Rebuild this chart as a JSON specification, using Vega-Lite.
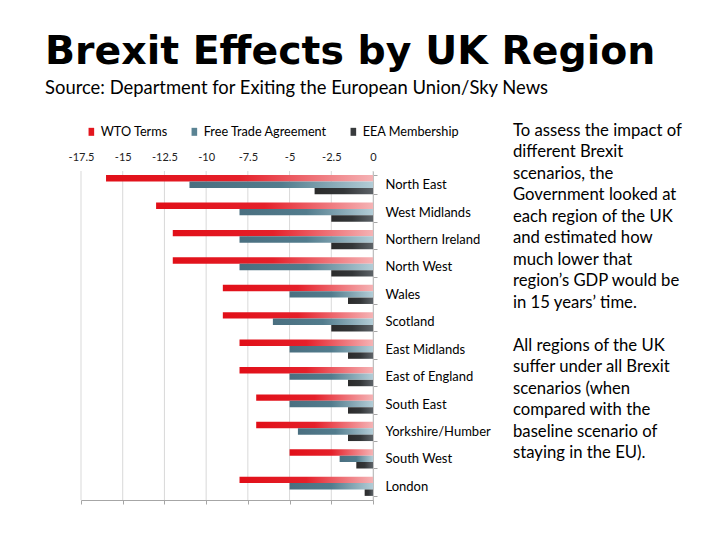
{
  "$schema": "https://vega.github.io/schema/vega-lite/v6.json",
  "background": "white",
  "padding": {"left": 45, "top": 32, "right": 5, "bottom": 5},
  "title": {
    "text": "Brexit Effects by UK Region",
    "subtitle": "Source: Department for Exiting the European Union/Sky News",
    "anchor": "start",
    "frame": "bounds",
    "dx": -23,
    "font": "DejaVu Sans",
    "fontWeight": "bold",
    "fontSize": 39.4,
    "color": "#000000",
    "subtitleFont": "Lato",
    "subtitleFontSize": 18.4,
    "subtitleColor": "#000000",
    "subtitlePadding": 6,
    "offset": 23
  },
  "config": {"view": {"stroke": null}, "font": "Lato"},
  "datasets": {
    "gdp": [
      {"region": "North East", "scenario": "WTO Terms", "value": -16},
      {"region": "North East", "scenario": "Free Trade Agreement", "value": -11},
      {"region": "North East", "scenario": "EEA Membership", "value": -3.5},
      {"region": "West Midlands", "scenario": "WTO Terms", "value": -13},
      {"region": "West Midlands", "scenario": "Free Trade Agreement", "value": -8},
      {"region": "West Midlands", "scenario": "EEA Membership", "value": -2.5},
      {"region": "Northern Ireland", "scenario": "WTO Terms", "value": -12},
      {"region": "Northern Ireland", "scenario": "Free Trade Agreement", "value": -8},
      {"region": "Northern Ireland", "scenario": "EEA Membership", "value": -2.5},
      {"region": "North West", "scenario": "WTO Terms", "value": -12},
      {"region": "North West", "scenario": "Free Trade Agreement", "value": -8},
      {"region": "North West", "scenario": "EEA Membership", "value": -2.5},
      {"region": "Wales", "scenario": "WTO Terms", "value": -9},
      {"region": "Wales", "scenario": "Free Trade Agreement", "value": -5},
      {"region": "Wales", "scenario": "EEA Membership", "value": -1.5},
      {"region": "Scotland", "scenario": "WTO Terms", "value": -9},
      {"region": "Scotland", "scenario": "Free Trade Agreement", "value": -6},
      {"region": "Scotland", "scenario": "EEA Membership", "value": -2.5},
      {"region": "East Midlands", "scenario": "WTO Terms", "value": -8},
      {"region": "East Midlands", "scenario": "Free Trade Agreement", "value": -5},
      {"region": "East Midlands", "scenario": "EEA Membership", "value": -1.5},
      {"region": "East of England", "scenario": "WTO Terms", "value": -8},
      {"region": "East of England", "scenario": "Free Trade Agreement", "value": -5},
      {"region": "East of England", "scenario": "EEA Membership", "value": -1.5},
      {"region": "South East", "scenario": "WTO Terms", "value": -7},
      {"region": "South East", "scenario": "Free Trade Agreement", "value": -5},
      {"region": "South East", "scenario": "EEA Membership", "value": -1.5},
      {"region": "Yorkshire/Humber", "scenario": "WTO Terms", "value": -7},
      {"region": "Yorkshire/Humber", "scenario": "Free Trade Agreement", "value": -4.5},
      {"region": "Yorkshire/Humber", "scenario": "EEA Membership", "value": -1.5},
      {"region": "South West", "scenario": "WTO Terms", "value": -5},
      {"region": "South West", "scenario": "Free Trade Agreement", "value": -2},
      {"region": "South West", "scenario": "EEA Membership", "value": -1},
      {"region": "London", "scenario": "WTO Terms", "value": -8},
      {"region": "London", "scenario": "Free Trade Agreement", "value": -5},
      {"region": "London", "scenario": "EEA Membership", "value": -0.5}
    ],
    "grid": [
      {"tick": -17.5}, {"tick": -15}, {"tick": -12.5}, {"tick": -10},
      {"tick": -7.5}, {"tick": -5}, {"tick": -2.5}, {"tick": 0}
    ],
    "notes": [
      {"line": 1, "text": "To assess the impact of"},
      {"line": 2, "text": "different Brexit"},
      {"line": 3, "text": "scenarios, the"},
      {"line": 4, "text": "Government looked at"},
      {"line": 5, "text": "each region of the UK"},
      {"line": 6, "text": "and estimated how"},
      {"line": 7, "text": "much lower that"},
      {"line": 8, "text": "region’s GDP would be"},
      {"line": 9, "text": "in 15 years’ time."},
      {"line": 10, "text": ""},
      {"line": 11, "text": "All regions of the UK"},
      {"line": 12, "text": "suffer under all Brexit"},
      {"line": 13, "text": "scenarios (when"},
      {"line": 14, "text": "compared with the"},
      {"line": 15, "text": "baseline scenario of"},
      {"line": 16, "text": "staying in the EU)."}
    ]
  },
  "spacing": 12,
  "resolve": {"legend": {"color": "independent"}},
  "hconcat": [
    {
      "width": 292,
      "height": 329,
      "layer": [
        {
          "data": {"name": "grid"},
          "mark": {"type": "rule", "color": "#d9d9d9", "strokeWidth": 1},
          "encoding": {
            "x": {
              "field": "tick",
              "type": "quantitative",
              "scale": {"domain": [-17.5, 0], "nice": false, "zero": false},
              "axis": {
                "orient": "bottom",
                "values": [-17.5, -15, -12.5, -10, -7.5, -5, -2.5, 0],
                "labels": false,
                "grid": false,
                "domain": true,
                "domainColor": "#a6a6a6",
                "ticks": true,
                "tickColor": "#a6a6a6",
                "tickSize": 4,
                "title": null
              }
            }
          }
        },
        {
          "data": {"name": "gdp"},
          "mark": {"type": "bar"},
          "encoding": {
            "y": {
              "field": "region",
              "type": "nominal",
              "sort": ["North East", "West Midlands", "Northern Ireland", "North West", "Wales", "Scotland", "East Midlands", "East of England", "South East", "Yorkshire/Humber", "South West", "London"],
              "scale": {"paddingInner": 0.3, "paddingOuter": 0.15},
              "axis": {
                "orient": "right",
                "title": null,
                "domain": true,
                "domainColor": "#a6a6a6",
                "ticks": true,
                "tickBand": "extent",
                "tickSize": 4,
                "tickColor": "#a6a6a6",
                "labelPadding": 8,
                "labelFont": "Lato",
                "labelFontSize": 13,
                "labelColor": "#000000"
              }
            },
            "yOffset": {
              "field": "scenario",
              "type": "nominal",
              "sort": ["WTO Terms", "Free Trade Agreement", "EEA Membership"],
              "scale": {"paddingInner": 0, "paddingOuter": 0}
            },
            "x": {
              "field": "value",
              "type": "quantitative",
              "axis": {
                "orient": "top",
                "values": [-17.5, -15, -12.5, -10, -7.5, -5, -2.5, 0],
                "labelExpr": "datum.value + ''",
                "labelFlush": false,
                "labelOverlap": false,
                "grid": false,
                "domain": false,
                "ticks": false,
                "labelPadding": 9,
                "labelFont": "Lato",
                "labelFontSize": 11,
                "labelColor": "#222222",
                "title": null
              }
            },
            "color": {
              "field": "scenario",
              "type": "nominal",
              "scale": {
                "domain": ["WTO Terms", "Free Trade Agreement", "EEA Membership"],
                "range": ["#e3161e", "#5a8393", "#383b3d"]
              },
              "condition": [
                {"test": "datum.scenario === 'WTO Terms'", "value": {"gradient": "linear", "x1": 0, "y1": 0, "x2": 1, "y2": 0, "stops": [{"offset": 0, "color": "#e10f18"}, {"offset": 0.5, "color": "#e5202a"}, {"offset": 1, "color": "#f5b3b5"}]}},
                {"test": "datum.scenario === 'Free Trade Agreement'", "value": {"gradient": "linear", "x1": 0, "y1": 0, "x2": 1, "y2": 0, "stops": [{"offset": 0, "color": "#4a6f80"}, {"offset": 0.5, "color": "#527c8d"}, {"offset": 1, "color": "#b3cdd7"}]}},
                {"test": "datum.scenario === 'EEA Membership'", "value": {"gradient": "linear", "x1": 0, "y1": 0, "x2": 1, "y2": 0, "stops": [{"offset": 0, "color": "#2b2b2b"}, {"offset": 0.5, "color": "#333638"}, {"offset": 1, "color": "#5d6368"}]}}
              ],
              "legend": {
                "orient": "top",
                "title": null,
                "direction": "horizontal",
                "symbolType": "M-0.7,-1H0.7V1H-0.7Z",
                "symbolSize": 64,
                "symbolStrokeWidth": 0,
                "labelFont": "Lato",
                "labelFontSize": 12.7,
                "labelColor": "#000000",
                "columnPadding": 20,
                "labelOffset": 3,
                "offset": 8,
                "padding": 4
              }
            }
          }
        }
      ],
      "resolve": {"axis": {"x": "independent"}}
    },
    {
      "width": 0,
      "height": 344,
      "data": {"name": "notes"},
      "mark": {"type": "text", "align": "left", "baseline": "middle", "dy": -51, "font": "Lato", "fontSize": 16.7, "color": "#000000"},
      "encoding": {
        "y": {"field": "line", "type": "ordinal", "axis": null, "scale": {"paddingInner": 0, "paddingOuter": 0}},
        "text": {"field": "text"}
      }
    }
  ]
}
